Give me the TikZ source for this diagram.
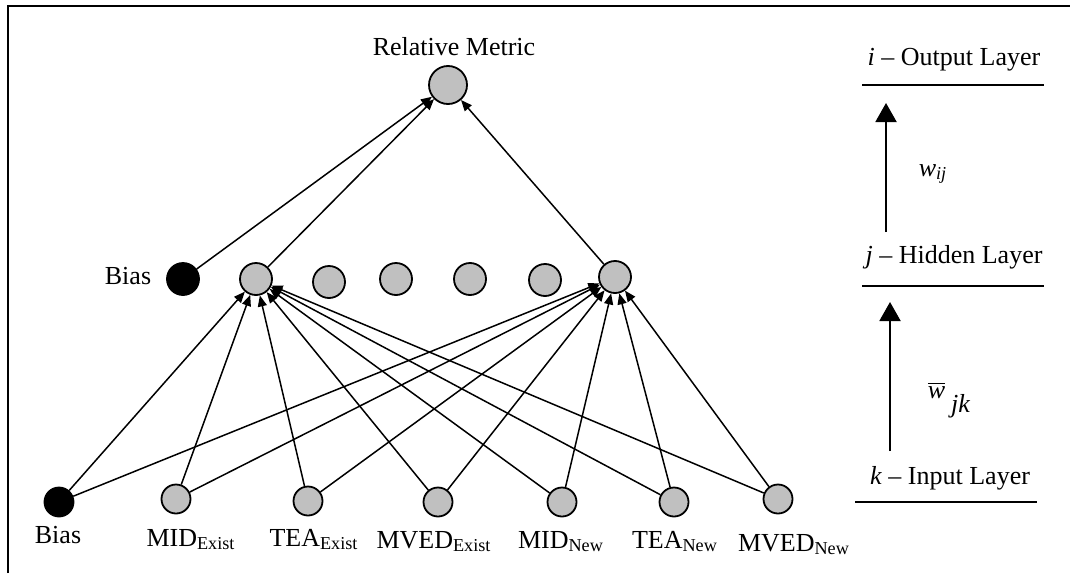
\documentclass[tikz,border=0pt]{standalone}
\usepackage{fontspec}
\setmainfont{Liberation Serif}
\usetikzlibrary{arrows.meta}
\definecolor{nodegray}{HTML}{C0C0C0}

\begin{document}
\begin{tikzpicture}[x=0.5pt, y=-0.5pt, font=\fontsize{13}{15}\selectfont,
  >={Triangle[length=5.5pt,width=4.5pt]},
  neuron/.style={circle, draw, line width=0.9pt, fill=nodegray, inner sep=0pt,
                 minimum size=16pt},
  inneuron/.style={neuron, minimum size=14.5pt},
  outneuron/.style={neuron, minimum size=19pt},
  biasin/.style={inneuron, fill=black},
  biashid/.style={neuron, fill=black},
  link/.style={->, line width=0.75pt},
  layerarrow/.style={-{Triangle[length=9.5pt,width=10.5pt]}, line width=1pt},
  rule/.style={line width=1pt},
  txt/.style={anchor=base, inner sep=0pt}]
  \useasboundingbox (0,0) rectangle (1070,573);
  \draw[line width=1pt] (8,573) -- (8,6) -- (1070,6);

  % output layer
  \node[outneuron] (out) at (448,85) {};
  \node[txt] (outlbl) at (454,55) {Relative Metric};

  % hidden layer
  \node[biashid] (hb) at (183,279) {};
  \node[txt] (hblbl) at (128,284) {Bias};
  \node[neuron] (h1) at (256,279) {};
  \node[neuron] (h2) at (329,282) {};
  \node[neuron] (h3) at (396,279) {};
  \node[neuron] (h4) at (470,279) {};
  \node[neuron] (h5) at (545,280) {};
  \node[neuron] (h6) at (615,277) {};

  % input layer
  \node[biasin] (ib) at (59,502) {};
  \node[inneuron] (mide) at (176,499) {};
  \node[inneuron] (teae) at (308,501) {};
  \node[inneuron] (mvede) at (438,502) {};
  \node[inneuron] (midn) at (562,502) {};
  \node[inneuron] (tean) at (674,502) {};
  \node[inneuron] (mvedn) at (778,499) {};
  \node[txt] (iblbl) at (58,543) {Bias};
  \node[txt] (midelbl) at (191,546) {MID\textsubscript{Exist}};
  \node[txt] (teaelbl) at (314,546) {TEA\textsubscript{Exist}};
  \node[txt] (mvedelbl) at (434,548) {MVED\textsubscript{Exist}};
  \node[txt] (midnlbl) at (561,548) {MID\textsubscript{New}};
  \node[txt] (teanlbl) at (675,548) {TEA\textsubscript{New}};
  \node[txt] (mvednlbl) at (794,551) {MVED\textsubscript{New}};

  % hidden -> output
  \draw[link] (hb) -- (out);
  \draw[link] (h1) -- (out);
  \draw[link] (h6) -- (out);

  % input -> hidden
  \draw[link] (ib) -- (h1);
  \draw[link] (ib) -- (h6);
  \draw[link] (mide) -- (h1);
  \draw[link] (mide) -- (h6);
  \draw[link] (teae) -- (h1);
  \draw[link] (teae) -- (h6);
  \draw[link] (mvede) -- (h1);
  \draw[link] (mvede) -- (h6);
  \draw[link] (midn) -- (h1);
  \draw[link] (midn) -- (h6);
  \draw[link] (tean) -- (h1);
  \draw[link] (tean) -- (h6);
  \draw[link] (mvedn) -- (h1);
  \draw[link] (mvedn) -- (h6);

  % layer legend
  \node[txt] (lout) at (954,65) {\textit{i} – Output Layer};
  \draw[rule] (862,85) -- (1044,85);
  \coordinate (a1s) at (886,232);
  \coordinate (a1e) at (886,103);
  \draw[layerarrow] (a1s) -- (a1e);
  \node[txt] (wij) at (933,176) {\textit{w}\textsubscript{\textit{ij}}};
  \node[txt] (lhid) at (954,263) {\textit{j} – Hidden Layer};
  \draw[rule] (862,286) -- (1044,286);
  \coordinate (a2s) at (890,451);
  \coordinate (a2e) at (890,302);
  \draw[layerarrow] (a2s) -- (a2e);
  \node[txt] (wjk) at (949,398) {$\overline{\mbox{\textit{w}}}$\kern3pt\raisebox{-7pt}{\textit{jk}}};
  \node[txt] (lin) at (950,484) {\textit{k} – Input Layer};
  \draw[rule] (855,502) -- (1037,502);
\end{tikzpicture}
\end{document}
